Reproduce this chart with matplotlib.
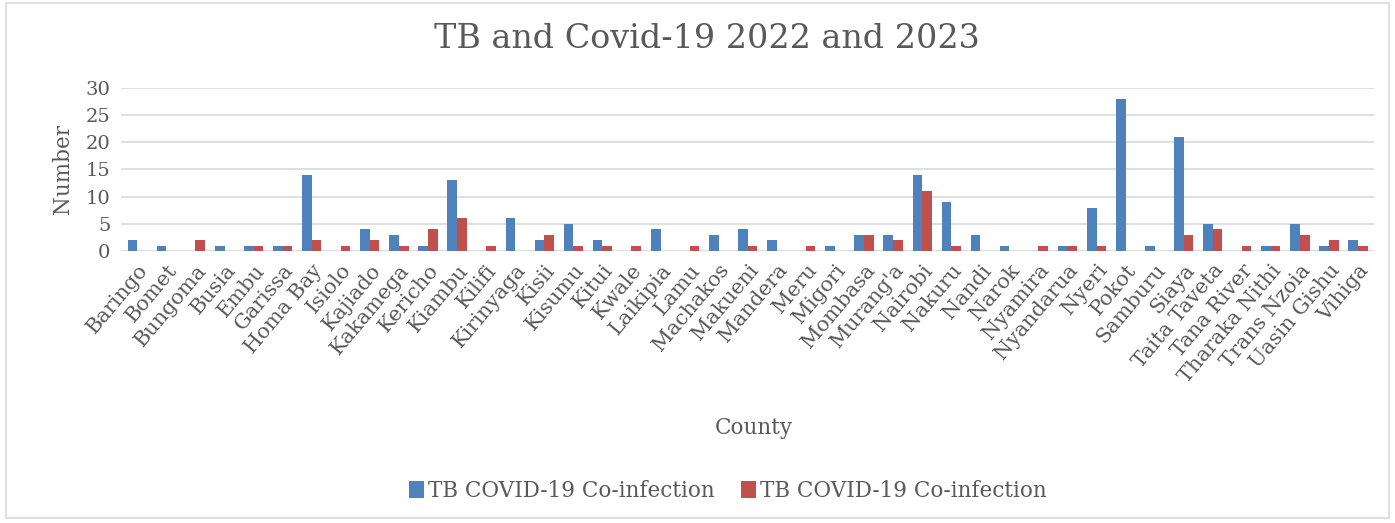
import numpy as np
import matplotlib.pyplot as plt
from matplotlib.patches import Rectangle

counties = ["Baringo", "Bomet", "Bungoma", "Busia", "Embu", "Garissa", "Homa Bay",
            "Isiolo", "Kajiado", "Kakamega", "Kericho", "Kiambu", "Kilifi", "Kirinyaga",
            "Kisii", "Kisumu", "Kitui", "Kwale", "Laikipia", "Lamu", "Machakos",
            "Makueni", "Mandera", "Meru", "Migori", "Mombasa", "Murang'a", "Nairobi",
            "Nakuru", "Nandi", "Narok", "Nyamira", "Nyandarua", "Nyeri", "Pokot",
            "Samburu", "Siaya", "Taita Taveta", "Tana River", "Tharaka Nithi",
            "Trans Nzoia", "Uasin Gishu", "Vihiga"]
tb_2022 = [2, 1, 0, 1, 1, 1, 14, 0, 4, 3, 1, 13, 0, 6, 2, 5, 2, 0, 4, 0, 3,
           4, 2, 0, 1, 3, 3, 14, 9, 3, 1, 0, 1, 8, 28, 1, 21, 5, 0, 1, 5, 1, 2]
tb_2023 = [0, 0, 2, 0, 1, 1, 2, 1, 2, 1, 4, 6, 1, 0, 3, 1, 1, 1, 0, 1, 0,
           1, 0, 1, 0, 3, 2, 11, 1, 0, 0, 1, 1, 1, 0, 0, 3, 4, 1, 1, 3, 2, 1]

plt.rcParams['font.family'] = ['DejaVu Serif']
grey = "#595959"

fig = plt.figure(figsize=(13.95, 5.23), dpi=100)
ax = fig.add_axes([0.087, 0.52, 0.898, 0.312])

x = np.arange(len(counties))
w = 0.33
ax.bar(x - w / 2, tb_2022, w, color="#4F81BD", label="TB COVID-19 Co-infection", zorder=3)
ax.bar(x + w / 2, tb_2023, w, color="#C0504D", label="TB COVID-19 Co-infection", zorder=3)

ax.set_xlim(-0.55, len(counties) - 0.45)
ax.set_ylim(0, 30)
ax.set_yticks(range(0, 31, 5))
ax.grid(axis="y", color="#d9d9d9", linewidth=1.2, zorder=0)
for s in ax.spines.values():
    s.set_visible(False)
ax.axhline(0, color="#d9d9d9", linewidth=1.2, zorder=2)
ax.tick_params(length=0, colors=grey, labelsize=14)
ax.set_xticks(x)
ax.set_xticklabels(counties, rotation=50, ha="right", rotation_mode="anchor",
                   fontsize=15, color=grey)
ax.tick_params(axis="x", pad=7)
ax.tick_params(axis="y", pad=8)

ax.set_ylabel("Number", fontsize=15.5, color=grey, labelpad=8)
ax.set_xlabel("County", fontsize=15.5, color=grey)
ax.xaxis.set_label_coords(0.505, -1.02)
fig.text(0.507, 0.925, "TB and Covid-19 2022 and 2023", fontsize=24, color=grey,
         ha="center", va="center")

ax.legend(loc="center", bbox_to_anchor=(0.484, -1.47), ncol=2, frameon=False,
          fontsize=15.5, labelcolor=grey, handlelength=0.7, handleheight=0.9,
          columnspacing=1.2, handletextpad=0.2)

fig.patches.append(Rectangle((0.004, 0.01), 0.992, 0.985, transform=fig.transFigure,
                             fill=False, edgecolor="#d9d9d9", linewidth=1.2))

fig.savefig("out.png", dpi=100)
